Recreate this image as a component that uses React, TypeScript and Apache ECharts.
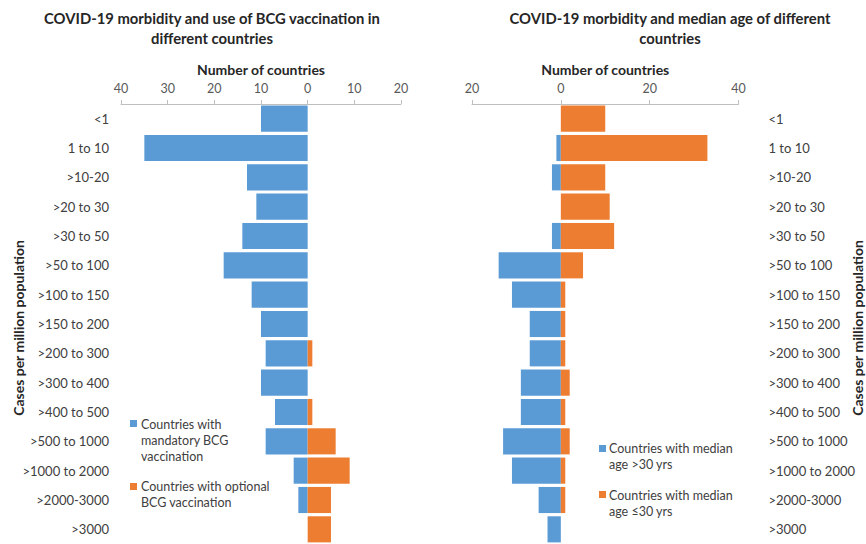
import React, { useEffect, useRef } from "react";
import * as echarts from "echarts";

const categories = [
  "<1", "1 to 10", ">10-20", ">20 to 30", ">30 to 50", ">50 to 100", ">100 to 150",
  ">150 to 200", ">200 to 300", ">300 to 400", ">400 to 500", ">500 to 1000",
  ">1000 to 2000", ">2000-3000", ">3000",
];
// Left chart: BCG vaccination
const bcgMandatory = [10, 35, 13, 11, 14, 18, 12, 10, 9, 10, 7, 9, 3, 2, 0];
const bcgOptional = [0, 0, 0, 0, 0, 0, 0, 0, 1, 0, 1, 6, 9, 5, 5];
// Right chart: median age
const ageOver30 = [0, 1, 2, 0, 2, 14, 11, 7, 7, 9, 9, 13, 11, 5, 3];
const ageUpTo30 = [10, 33, 10, 11, 12, 5, 1, 1, 1, 2, 1, 2, 1, 1, 0];

const BLUE = "#5B9BD5";
const ORANGE = "#ED7D31";
const FONT = "Lato, 'Noto Sans', sans-serif";

export default function App() {
  const ref = useRef<HTMLDivElement>(null);
  useEffect(() => {
    if (!ref.current) return;
    const chart = echarts.init(ref.current, undefined, { renderer: "svg" });
    const xAxisCommon = (min: number, max: number, interval: number, idx: number) => ({
      type: "value",
      gridIndex: idx,
      position: "top",
      min,
      max,
      interval,
      name: "Number of countries",
      nameLocation: "middle",
      nameGap: 28,
      nameTextStyle: { fontFamily: FONT, fontSize: 14, fontWeight: "bold", color: "#262626" },
      axisLine: { show: true, lineStyle: { color: "#bfbfbf", width: 1 } },
      axisTick: { show: true, length: 4, lineStyle: { color: "#bfbfbf" } },
      axisLabel: {
        margin: 9,
        fontFamily: FONT,
        fontSize: 12.5,
        color: "#595959",
        formatter: (v: number) => String(Math.abs(v)),
      },
      splitLine: { show: false },
    });
    const legendLines = (x: number, y: number, lines: string[]) =>
      lines.map((t, i) => ({
        type: "text",
        x,
        y: y + i * 16,
        style: {
          text: t,
          fontFamily: FONT,
          fontSize: 12.5,
          fill: "#404040",
          verticalAlign: "middle",
          align: "left",
        },
      }));
    const titleStyle = {
      fontFamily: FONT,
      fontSize: 14.8,
      fontWeight: "bold",
      color: "#262626",
      lineHeight: 20,
    };
    const sideTitle = (x: number) => ({
      type: "text",
      x,
      y: 328,
      rotation: Math.PI / 2,
      style: {
        text: "Cases per million population",
        fontFamily: FONT,
        fontSize: 14,
        fontWeight: "bold",
        fill: "#262626",
        align: "center",
        verticalAlign: "middle",
      },
    });
    chart.setOption({
      animation: false,
      backgroundColor: "#ffffff",
      title: [
        {
          text: "COVID-19 morbidity and use of BCG vaccination in\ndifferent countries",
          left: 207,
          top: 3,
          textAlign: "center",
          textStyle: titleStyle,
        },
        {
          text: "COVID-19 morbidity and median age of different\ncountries",
          left: 665,
          top: 3,
          textAlign: "center",
          textStyle: titleStyle,
        },
      ],
      grid: [
        { left: 121, top: 104, width: 280, height: 440, containLabel: false },
        { left: 472, top: 104, width: 266.5, height: 440, containLabel: false },
      ],
      xAxis: [xAxisCommon(-40, 20, 10, 0), xAxisCommon(-20, 40, 20, 1)],
      yAxis: [
        {
          type: "category",
          gridIndex: 0,
          data: categories,
          inverse: true,
          position: "left",
          axisLine: { show: false },
          axisTick: { show: false },
          axisLabel: { margin: 12, fontFamily: FONT, fontSize: 13, color: "#404040" },
        },
        {
          type: "category",
          gridIndex: 1,
          data: categories,
          inverse: true,
          position: "right",
          axisLine: { show: false },
          axisTick: { show: false },
          axisLabel: { margin: 30, fontFamily: FONT, fontSize: 13, color: "#404040" },
        },
      ],
      series: [
        {
          name: "Countries with mandatory BCG vaccination",
          type: "bar",
          xAxisIndex: 0,
          yAxisIndex: 0,
          stack: "bcg",
          barCategoryGap: "11%",
          itemStyle: { color: BLUE },
          data: bcgMandatory.map((v) => -v),
        },
        {
          name: "Countries with optional BCG vaccination",
          type: "bar",
          xAxisIndex: 0,
          yAxisIndex: 0,
          stack: "bcg",
          barCategoryGap: "11%",
          itemStyle: { color: ORANGE },
          data: bcgOptional,
        },
        {
          name: "Countries with median age >30 yrs",
          type: "bar",
          xAxisIndex: 1,
          yAxisIndex: 1,
          stack: "age",
          barCategoryGap: "11%",
          itemStyle: { color: BLUE },
          data: ageOver30.map((v) => -v),
        },
        {
          name: "Countries with median age ≤30 yrs",
          type: "bar",
          xAxisIndex: 1,
          yAxisIndex: 1,
          stack: "age",
          barCategoryGap: "11%",
          itemStyle: { color: ORANGE },
          data: ageUpTo30,
        },
      ],
      graphic: [
        sideTitle(18),
        sideTitle(857),
        { type: "rect", shape: { x: 130, y: 420, width: 7, height: 7 }, style: { fill: BLUE } },
        ...legendLines(141, 424, ["Countries with", "mandatory BCG", "vaccination"]),
        { type: "rect", shape: { x: 130, y: 483, width: 7, height: 7 }, style: { fill: ORANGE } },
        ...legendLines(141, 486, ["Countries with optional", "BCG vaccination"]),
        { type: "rect", shape: { x: 599, y: 445, width: 7, height: 7 }, style: { fill: BLUE } },
        ...legendLines(609, 448, ["Countries with median", "age >30 yrs"]),
        { type: "rect", shape: { x: 599, y: 491, width: 7, height: 7 }, style: { fill: ORANGE } },
        ...legendLines(609, 495, ["Countries with median", "age ≤30 yrs"]),
      ],
    });
    return () => chart.dispose();
  }, []);
  return (
    <div
      ref={ref}
      style={{ position: "fixed", left: 0, top: 0, width: 866, height: 544 }}
    />
  );
}
